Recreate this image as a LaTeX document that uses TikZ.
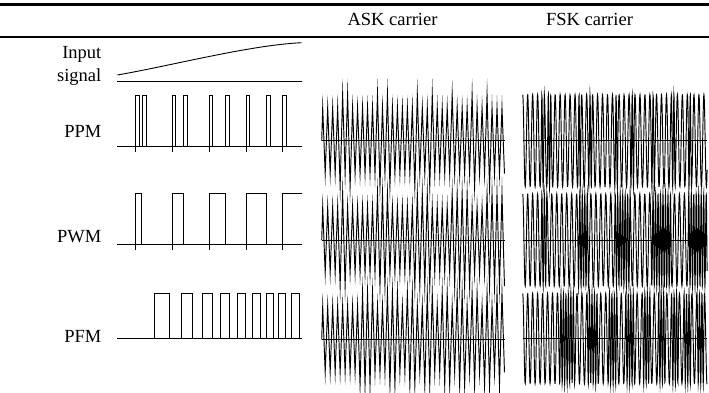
\documentclass[tikz,border=0pt]{standalone}
\usepackage{fontspec}
\setmainfont{Liberation Serif}
\begin{document}
\begin{tikzpicture}[x=1pt,y=-1pt,
  lbl/.style={inner sep=0pt,font=\fontsize{18.5}{22}\selectfont},
  sig/.style={line width=0.9pt,line join=miter},
  axisline/.style={line width=1pt},
  wave/.style={line width=0.95pt,line join=miter,miter limit=60},
  rule/.style={line width=2.6pt},
  declare function={
    fr(\p)=\p-floor(\p);
    hppm(\x)=(\x>135.3)*(\x<139.6)+(\x>141.5)*(\x<146.5)+(\x>172.1)*(\x<176.4)+(\x>182.5)*(\x<187.5)
            +(\x>208.8)*(\x<213.1)+(\x>224.5)*(\x<229.5)+(\x>245.5)*(\x<249.8)+(\x>265.5)*(\x<270.5)
            +(\x>282.3)*(\x<286.6);
    hpwm(\x)=(\x>135.3)*(\x<142)+(\x>172.1)*(\x<183.7)+(\x>208.8)*(\x<225.5)+(\x>245.5)*(\x<266.5)
            +(\x>282.3)*(\x<306);
    hpfm(\x)=(\x>153.5)*(\x<169.8)+(\x>181.2)*(\x<193.2)+(\x>202.2)*(\x<212.5)+(\x>219.5)*(\x<229.5)
            +(\x>236.8)*(\x<245.5)+(\x>252.2)*(\x<260.5)+(\x>265.5)*(\x<273.8)+(\x>277.8)*(\x<286.2)
            +(\x>291.2)*(\x<299.5);
    cppm(\x)=min(max(\x-135.8,0),3.3)+min(max(\x-142,0),4)+min(max(\x-172.6,0),3.3)+min(max(\x-183,0),4)
            +min(max(\x-209.3,0),3.3)+min(max(\x-225,0),4)+min(max(\x-246,0),3.3)+min(max(\x-266,0),4)
            +min(max(\x-282.8,0),3.3);
    cpwm(\x)=min(max(\x-135.8,0),5.7)+min(max(\x-172.6,0),10.6)+min(max(\x-209.3,0),15.7)
            +min(max(\x-246,0),20)+min(max(\x-282.8,0),22);
    cpfm(\x)=min(max(\x-154,0),15.3)+min(max(\x-181.7,0),11)+min(max(\x-202.7,0),9.3)+min(max(\x-220,0),9)
            +min(max(\x-237.3,0),7.7)+min(max(\x-252.7,0),7.3)+min(max(\x-266,0),7.3)+min(max(\x-278.3,0),7.4)
            +min(max(\x-291.7,0),7.3);
  }]
\useasboundingbox (0,0) rectangle (709,392);
\fill[white] (0,0) rectangle (709,392);

% header rules and titles
\draw[rule] (0,4.5) -- (709,4.5);
\draw[rule] (0,37) -- (709,37);
\node[lbl] (ask) at (392.5,19.5) {ASK carrier};
\node[lbl] (fsk) at (589.5,19.5) {FSK carrier};

% row labels
\node[lbl,anchor=base east] (in1) at (101.5,58.5) {Input};
\node[lbl,anchor=base east] (in2) at (101.5,81) {signal};
\node[lbl,anchor=east] (ppm) at (101.5,131) {PPM};
\node[lbl,anchor=east] (pwm) at (101.5,236.5) {PWM};
\node[lbl,anchor=east] (pfm) at (101.5,336) {PFM};

% input signal
\draw[sig] (117.3,75) .. controls (170,66) and (250,45) .. (301.7,42.7);
\draw[axisline] (117.3,81.7) -- (301.7,81.7);

% PPM
\draw[axisline] (117.3,146.7) -- (301.7,146.7);
\foreach \a/\b in {135.8/139.1,142/146,172.6/175.9,183/187,209.3/212.6,225/229,246/249.3,266/270,282.8/286.1}
  \draw[sig] (\a,146.7) -- (\a,95.3) -- (\b,95.3) -- (\b,146.7);
\foreach \t in {135.8,172.6,209.3,246,282.8}
  \draw[sig] (\t,146.7) -- (\t,152.3);

% PWM
\draw[axisline] (117.3,244.3) -- (301.7,244.3);
\foreach \a/\b in {135.8/141.5,172.6/183.2,209.3/225,246/266}
  \draw[sig] (\a,244.3) -- (\a,193.3) -- (\b,193.3) -- (\b,244.3);
\draw[sig] (282.8,244.3) -- (282.8,193.3) -- (301.7,193.3);
\foreach \t in {135.8,172.6,209.3,246,282.8}
  \draw[sig] (\t,244.3) -- (\t,250);

% PFM
\draw[axisline] (117.3,338.3) -- (301.7,338.3);
\foreach \a/\b in {154/169.3,181.7/192.7,202.7/212,220/229,237.3/245,252.7/260,266/273.3,278.3/285.7,291.7/299}
  \draw[sig] (\a,338.3) -- (\a,293.3) -- (\b,293.3) -- (\b,338.3);

% ASK carriers
\draw[wave] (321.7,140.7) \foreach \i in {0,...,73}{
  -- ({322.7+2.49*\i},{140.7-(1-2*mod(\i,2))*(33+13*min(1,hppm(117.999+2.49*\i)))}) };
\draw[axisline] (321.7,140.7) -- (505,140.7);
\draw[wave] (321.7,240) \foreach \i in {0,...,73}{
  -- ({322.7+2.49*\i},{240-(1-2*mod(\i,2))*(33+13*min(1,hpwm(117.999+2.49*\i)))}) };
\draw[axisline] (321.7,240) -- (505,240);
\draw[wave] (321.7,339.3) \foreach \i in {0,...,73}{
  -- ({322.7+2.49*\i},{339.3-(1-2*mod(\i,2))*(33+13*min(1,hpfm(117.999+2.49*\i)))}) };
\draw[axisline] (321.7,339.3) -- (505,339.3);

% FSK carriers
\draw[wave] plot[variable=\t,domain=117.3:301.7,samples=1100]
  ({\t+405.4},{140.7-46*cos(360*fr((\t-117.3+1.0*cppm(\t))/4.97))});
\draw[axisline] (522.7,140.7) -- (706.7,140.7);
\draw[wave] plot[variable=\t,domain=117.3:301.7,samples=1100]
  ({\t+405.4},{240-46*cos(360*fr((\t-117.3+1.0*cpwm(\t))/4.97))});
\draw[axisline] (522.7,240) -- (706.7,240);
\draw[wave] plot[variable=\t,domain=117.3:301.7,samples=1100]
  ({\t+405.4},{338.5-45*cos(360*fr((\t-117.3+1.0*cpfm(\t))/4.97))});
\draw[axisline] (522.7,338.5) -- (706.7,338.5);
\end{tikzpicture}
\end{document}
